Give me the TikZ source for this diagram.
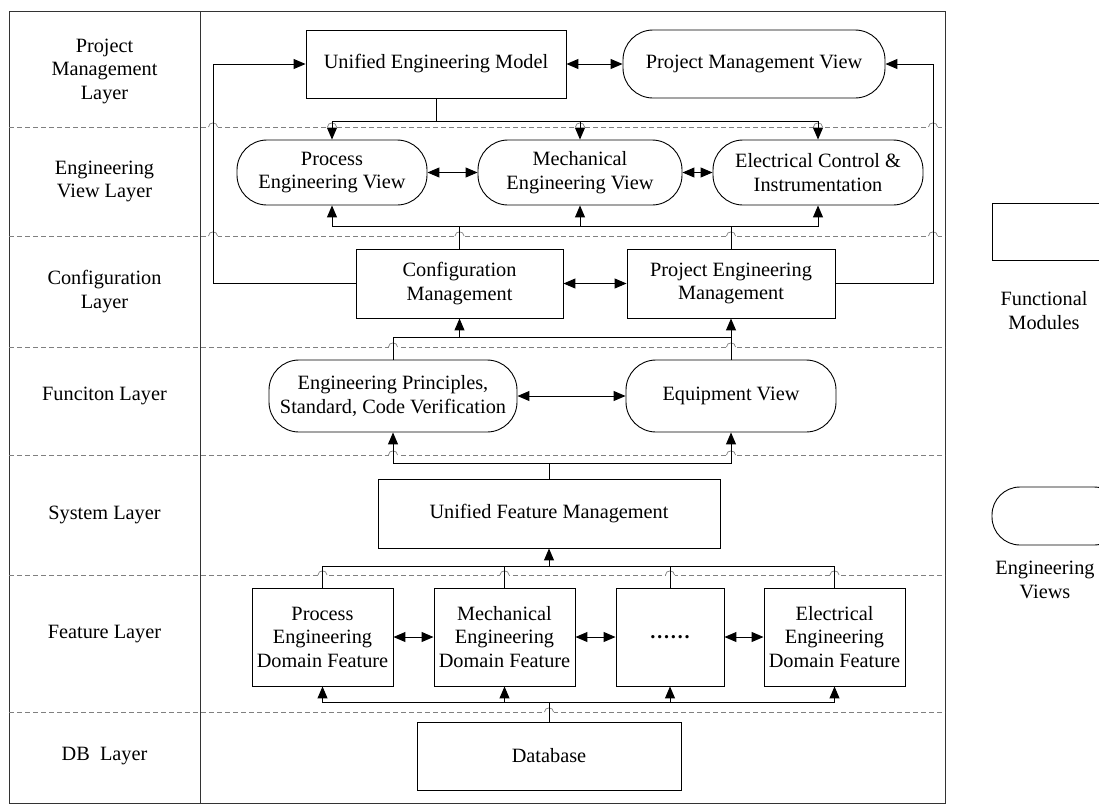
\documentclass[tikz,border=0pt]{standalone}
\usepackage{fontspec}
\setmainfont{Liberation Serif}
\usetikzlibrary{arrows.meta}
\begin{document}
\begin{tikzpicture}[x=1pt,y=-1pt,
  font=\fontsize{20.3}{23.5}\selectfont,
  box/.style={draw=black, line width=0.9pt, align=center, inner sep=0pt, fill=white},
  view/.style={box, rounded corners=30pt},
  conn/.style={line width=1pt, draw=black},
  arr/.style={conn, -{Triangle[length=12pt,width=10pt]}},
  darr/.style={conn, {Triangle[length=12pt,width=10pt]}-{Triangle[length=12pt,width=10pt]}},
  layerline/.style={draw=black!50, line width=0.8pt, dash pattern=on 5pt off 3pt},
  hop/.style={draw=black!50, line width=0.7pt},
  frameline/.style={draw=black!80, line width=0.9pt},
  lbl/.style={align=center, inner sep=0pt}]
\useasboundingbox (0,0) rectangle (1099,804);

% frame
\draw[frameline] (9,11) rectangle (945,803);
\draw[frameline] (200,11) -- (200,803);

% layer separators
\foreach \yy in {127,236,347,455,575,712}
  \draw[layerline] (9,\yy) -- (945,\yy);
% hops where connectors cross the separators
\foreach \xx/\yy in {213/127,332/127,580/127,818/127,933/127,
                     213/236,459.5/236,731/236,933/236,
                     393/347,731/347,393/455,731/455,
                     322.5/575,504.5/575,670/575,834.5/575,549/712}{
  \fill[white] (\xx-4.5,\yy-1.5) rectangle (\xx+4.5,\yy+1.5);
  \draw[hop] (\xx-4.5,\yy) .. controls (\xx-4.5,\yy-5.5) and (\xx+4.5,\yy-5.5) .. (\xx+4.5,\yy);
}

% layer labels
\node[lbl] (l1) at (104.5,71) {Project\\Management\\Layer};
\node[lbl] (l2) at (104.5,181.5) {Engineering\\View Layer};
\node[lbl] (l3) at (104.5,291.5) {Configuration\\Layer};
\node[lbl] (l4) at (104.5,396) {Funciton Layer};
\node[lbl] (l5) at (104.5,515) {System Layer};
\node[lbl] (l6) at (104.5,634) {Feature Layer};
\node[lbl] (l7) at (104.5,756) {DB~~Layer};

% nodes
\node[box, minimum width=260pt, minimum height=68pt] (uem) at (436,64) {Unified Engineering Model};
\node[view, minimum width=262pt, minimum height=68pt] (pmv) at (754,64) {Project Management View};

\node[view, minimum width=190pt, minimum height=65pt] (pev) at (332,172.5) {Process\\Engineering View};
\node[view, minimum width=204pt, minimum height=65pt] (mev) at (580,172.5) {Mechanical\\Engineering View};
\node[view, minimum width=210pt, minimum height=65pt] (eev) at (818,172.5) {Electrical Control \&\\Instrumentation};

\node[box, minimum width=207pt, minimum height=69pt] (cm) at (459.5,283.5) {Configuration\\Management};
\node[box, minimum width=208pt, minimum height=69pt] (pem) at (731,283.5) {Project Engineering\\Management};

\node[view, minimum width=248pt, minimum height=72pt] (ep) at (393,396) {Engineering Principles,\\Standard, Code Verification};
\node[view, minimum width=210pt, minimum height=72pt] (ev) at (731,396) {Equipment View};

\node[box, minimum width=342pt, minimum height=69pt] (ufm) at (549,513.5) {Unified Feature Management};

\node[box, minimum width=141pt, minimum height=98pt] (f1) at (322.5,637) {Process\\Engineering\\Domain Feature};
\node[box, minimum width=141pt, minimum height=98pt] (f2) at (504.5,637) {Mechanical\\Engineering\\Domain Feature};
\node[box, minimum width=108pt, minimum height=98pt] (f3) at (670,637) {\textbf{……}};
\node[box, minimum width=141pt, minimum height=98pt] (f4) at (834.5,637) {Electrical\\Engineering\\Domain Feature};

\node[box, minimum width=264pt, minimum height=68pt] (db) at (549,756) {Database};

% legend
\node[box, minimum width=130pt, minimum height=57pt] (lg1) at (1057,231.5) {};
\node[lbl] (lg1t) at (1044,310.5) {Functional\\Modules};
\node[view, minimum width=130pt, minimum height=58pt, rounded corners=28pt] (lg2) at (1057,516) {};
\node[lbl] (lg2t) at (1045,580) {Engineering\\Views};

% horizontal double arrows
\draw[darr] (uem) -- (pmv);
\draw[darr] (pev) -- (mev);
\draw[darr] (mev) -- (eev);
\draw[darr] (cm) -- (pem);
\draw[darr] (ep) -- (ev);
\draw[darr] (f1) -- (f2);
\draw[darr] (f2) -- (f3);
\draw[darr] (f3) -- (f4);

% bus: model -> engineering views
\coordinate (b1) at (436,121);
\draw[conn] (uem.south) -- (b1);
\draw[arr] (b1) -| (pev.north);
\draw[arr] (b1) -| (mev.north);
\draw[arr] (b1) -| (eev.north);

% bus: configuration -> engineering views
\coordinate (b2) at (459.5,226);
\draw[conn] (cm.north) -- (b2);
\draw[conn] (pem.north) |- (b2);
\draw[arr] (b2) -| (pev.south);
\draw[arr] (b2) -| (mev.south);
\draw[arr] (b2) -| (eev.south);

% feedback loops
\coordinate (fl) at (213,64);
\coordinate (fr) at (933,64);
\draw[arr] (cm.west) -| (fl) -- (uem.west);
\draw[arr] (pem.east) -| (fr) -- (pmv.east);

% bus: function -> configuration
\coordinate (b3) at (459.5,337);
\draw[conn] (ep.north) |- (b3);
\draw[conn] (ev.north) |- (b3);
\draw[arr] (b3) -- (cm.south);
\draw[arr] (ev.north) -- (pem.south);

% bus: system -> function
\coordinate (b4) at (549,463);
\draw[conn] (ufm.north) -- (b4);
\draw[arr] (b4) -| (ep.south);
\draw[arr] (b4) -| (ev.south);

% bus: features -> system
\coordinate (b5) at (549,566);
\draw[conn] (f1.north) |- (b5);
\draw[conn] (f2.north) |- (b5);
\draw[conn] (f3.north) |- (b5);
\draw[conn] (f4.north) |- (b5);
\draw[arr] (b5) -- (ufm.south);

% bus: database -> features
\coordinate (b6) at (549,702);
\draw[conn] (db.north) -- (b6);
\draw[arr] (b6) -| (f1.south);
\draw[arr] (b6) -| (f2.south);
\draw[arr] (b6) -| (f3.south);
\draw[arr] (b6) -| (f4.south);
\end{tikzpicture}
\end{document}
